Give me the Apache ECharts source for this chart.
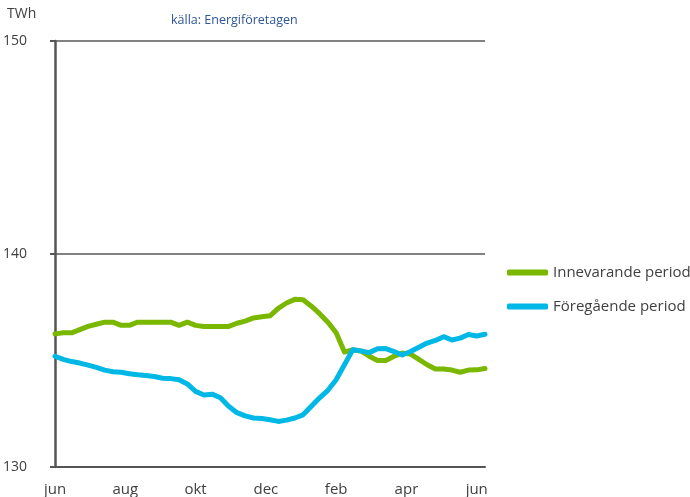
<!DOCTYPE html>
<html>
<head>
<meta charset="utf-8">
<script src="https://cdn.jsdelivr.net/npm/echarts@6/dist/echarts.min.js"></script>
<style>
  html, body { margin: 0; padding: 0; background: #fff; }
  #main { width: 690px; height: 497px; }
</style>
</head>
<body>
<div id="main"></div>
<script>
// månadsetiketter på x-axeln (var åttonde-nionde vecka)
var monthLabels = ['jun', 'aug', 'okt', 'dec', 'feb', 'apr', 'jun'];
var yTicks = [130, 140, 150];

// veckovärden, rullande, TWh
var innevarande = [
  136.25, 136.3, 136.3, 136.45, 136.6, 136.7, 136.8, 136.8, 136.65, 136.65,
  136.8, 136.8, 136.8, 136.8, 136.8, 136.65, 136.8, 136.65, 136.6, 136.6,
  136.6, 136.6, 136.75, 136.85, 137.0, 137.05, 137.1, 137.45, 137.7, 137.87,
  137.85, 137.55, 137.2, 136.8, 136.3, 135.4, 135.5, 135.45, 135.2, 135.0,
  135.0, 135.2, 135.35, 135.3, 135.05, 134.8, 134.6, 134.6, 134.55, 134.45,
  134.55, 134.56, 134.62
];
var foregaende = [
  135.2, 135.05, 134.95, 134.88, 134.78, 134.68, 134.55, 134.47, 134.45, 134.38,
  134.33, 134.3, 134.25, 134.17, 134.15, 134.1, 133.9, 133.55, 133.38, 133.42,
  133.25, 132.85, 132.55, 132.4, 132.3, 132.28, 132.22, 132.14, 132.2, 132.3,
  132.45, 132.85, 133.25, 133.6, 134.1, 134.8, 135.5, 135.45, 135.37, 135.55,
  135.56, 135.42, 135.26, 135.42, 135.62, 135.82, 135.94, 136.12, 135.96, 136.05,
  136.22, 136.15, 136.23
];

var labelStep = 8.5;

function toPairs(arr) {
  return arr.map(function (v, i) { return [i, v]; });
}

var myChart = echarts.init(document.getElementById('main'));

var option = {
  animation: false,
  textStyle: { fontFamily: 'Open Sans' },
  title: {
    text: 'källa: Energiföretagen',
    left: 166,
    top: 9,
    textStyle: { color: '#2E5597', fontSize: 12.5, fontWeight: 'normal', fontFamily: 'Open Sans' }
  },
  graphic: [{
    type: 'text',
    left: 7,
    top: 7,
    style: { text: 'TWh', fill: '#404040', font: '14px "Open Sans"' }
  }],
  legend: {
    orient: 'vertical',
    left: 502,
    top: 260,
    itemWidth: 41,
    itemHeight: 6,
    itemGap: 19,
    icon: 'roundRect',
    textStyle: { color: '#404040', fontSize: 15, fontFamily: 'Open Sans' },
    data: ['Innevarande period', 'Föregående period']
  },
  grid: { left: 55, right: 205, top: 41, bottom: 29, containLabel: false },
  xAxis: {
    type: 'value',
    min: 0,
    max: innevarande.length - 1,
    interval: labelStep,
    axisLine: { show: true, onZero: false, lineStyle: { color: '#555', width: 2 } },
    axisTick: { show: false },
    splitLine: { show: false },
    axisLabel: {
      margin: 15,
      color: '#404040',
      fontSize: 15,
      showMaxLabel: false,
      formatter: function (v) {
        var k = v / labelStep;
        if (Math.abs(k - Math.round(k)) < 1e-6 && monthLabels[Math.round(k)] !== undefined) {
          return monthLabels[Math.round(k)];
        }
        return '';
      }
    }
  },
  yAxis: {
    type: 'value',
    min: yTicks[0],
    max: yTicks[yTicks.length - 1],
    interval: 10,
    axisLine: { show: true, lineStyle: { color: '#555', width: 2.5 } },
    axisTick: { show: true, length: 5, lineStyle: { color: '#555', width: 2 } },
    splitLine: { show: true, lineStyle: { color: '#595959', width: 1.5 } },
    axisLabel: { margin: 28, color: '#404040', fontSize: 14, align: 'right' }
  },
  series: [{
    name: 'Innevarande period',
    type: 'line',
    data: toPairs(innevarande),
    showSymbol: false,
    symbol: 'none',
    lineStyle: { color: '#7AB800', width: 5, cap: 'round', join: 'round' },
    itemStyle: { color: '#7AB800' },
    z: 3
  }, {
    name: 'Föregående period',
    type: 'line',
    data: toPairs(foregaende),
    showSymbol: false,
    symbol: 'none',
    lineStyle: { color: '#00B8E6', width: 5, cap: 'round', join: 'round' },
    itemStyle: { color: '#00B8E6' },
    z: 4
  }]
};

myChart.setOption(option);
</script>
</body>
</html>
